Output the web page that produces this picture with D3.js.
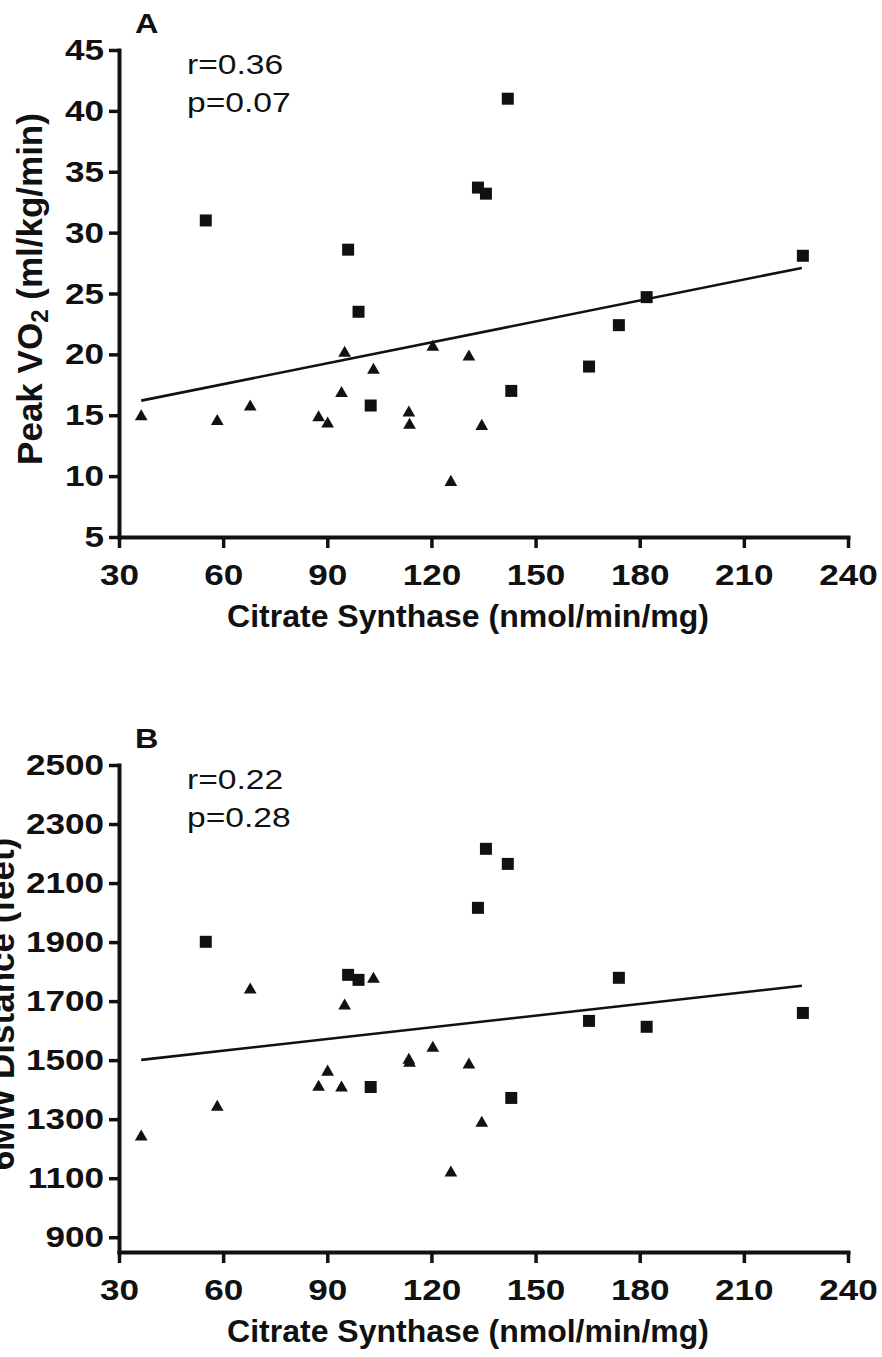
<!DOCTYPE html>
<html>
<head>
<meta charset="utf-8">
<script src="https://cdn.jsdelivr.net/npm/d3@7"></script>
<style>
  body { margin: 0; background: #fff; }
  svg { display: block; }
  text { font-family: "Liberation Sans", Arial, sans-serif; fill: #111; }
</style>
</head>
<body>
<svg width="882" height="1357"></svg>
<script>
// citrate synthase values (x) shared by both panels
var csSquares   = [55, 96, 99, 102.5, 133.4, 135.7, 142, 143, 165.4, 174, 182, 227];
var csTriangles = [36.4, 58.3, 67.8, 87.5, 90.1, 94.1, 95.0, 103.3, 113.5, 113.7, 120.4, 125.6, 130.8, 134.5];

// panel A: peak VO2
var vo2Squares   = [31.0, 28.6, 23.5, 15.8, 33.7, 33.2, 41.0, 17.0, 19.0, 22.4, 24.7, 28.1];
var vo2Triangles = [14.9, 14.5, 15.7, 14.8, 14.3, 16.8, 20.1, 18.7, 15.2, 14.2, 20.6, 9.5, 19.8, 14.1];
var vo2Fit = [[36.4, 16.2], [226.7, 27.1]];
var vo2Ticks = [5, 10, 15, 20, 25, 30, 35, 40, 45];

// panel B: 6MW distance
var walkSquares   = [1901, 1789, 1772, 1409, 2016, 2216, 2165, 1372, 1633, 1779, 1613, 1660];
var walkTriangles = [1240, 1341, 1738, 1409, 1460, 1406, 1684, 1775, 1500, 1490, 1541, 1118, 1484, 1287];
var walkFit = [[36.4, 1501], [226.7, 1752]];
var walkTicks = [900, 1100, 1300, 1500, 1700, 1900, 2100, 2300, 2500];

var xTicks = [30, 60, 90, 120, 150, 180, 210, 240];

var svg = d3.select("svg");

// stretch text horizontally, the figure fonts are wider than Arial
function widen(sel, k) {
  sel.each(function() {
    var w = this.getComputedTextLength();
    d3.select(this).attr("textLength", w * k).attr("lengthAdjust", "spacingAndGlyphs");
  });
}

function panel(top, letter, stats, yDomain, yTicks, sqY, triY, fit, titleX, titleFn) {
  var g = svg.append("g").attr("transform", `translate(0,${top})`);

  var xScale = d3.scaleLinear().domain([30, 240]).range([119, 848]);
  var yScale = d3.scaleLinear().domain(yDomain).range([537, 50]);

  var yAxis = d3.axisLeft(yScale).tickValues(yTicks).tickFormat(d3.format("d"))
    .tickSize(10).tickSizeOuter(0).tickPadding(5);
  var xAxis = d3.axisBottom(xScale).tickValues(xTicks).tickFormat(d3.format("d"))
    .tickSize(11).tickSizeOuter(0);

  var yG = g.append("g").attr("transform", "translate(119,0)").call(yAxis);
  var xG = g.append("g").attr("transform", "translate(0,537)").call(xAxis);

  [yG, xG].forEach(function(a) {
    a.select(".domain").attr("stroke", "#111").attr("stroke-width", 4).attr("stroke-linecap", "square");
    a.selectAll(".tick line").attr("stroke", "#111").attr("stroke-width", 3.5);
    a.selectAll(".tick text")
      .style("font-size", "30px").style("font-weight", "bold")
      .attr("fill", "#111");
  });
  xG.selectAll(".tick text").attr("dy", null).attr("y", 48);
  widen(yG.selectAll(".tick text"), 1.17);
  widen(xG.selectAll(".tick text"), 1.17);

  // regression line
  var line = d3.line().x(d => xScale(d[0])).y(d => yScale(d[1]));
  g.append("path").datum(fit)
    .attr("d", line)
    .attr("fill", "none").attr("stroke", "#111").attr("stroke-width", 2.6);

  var sq = d3.symbol().type(d3.symbolSquare).size(144);
  var tri = d3.symbol().type(d3.symbolTriangle).size(70);

  g.selectAll("path.sq")
    .data(csSquares)
    .enter()
    .append("path")
      .attr("class", "sq")
      .attr("d", sq)
      .attr("transform", (d, i) => `translate(${xScale(d)},${yScale(sqY[i])})`)
      .attr("fill", "#111");

  g.selectAll("path.tri")
    .data(csTriangles)
    .enter()
    .append("path")
      .attr("class", "tri")
      .attr("d", tri)
      .attr("transform", (d, i) => `translate(${xScale(d)},${yScale(triY[i])})`)
      .attr("fill", "#111");

  var lab = g.append("text").attr("x", 135).attr("y", 33)
    .style("font-size", "27px").style("font-weight", "bold").text(letter);
  widen(lab, 1.2);

  stats.forEach(function(s, i) {
    var t = g.append("text").attr("x", 187).attr("y", 74 + i * 38)
      .style("font-size", "28px").text(s);
    widen(t, 1.2);
  });

  g.append("text")
    .attr("x", 468).attr("y", 627)
    .attr("text-anchor", "middle")
    .style("font-size", "32px").style("font-weight", "bold")
    .text("Citrate Synthase (nmol/min/mg)");

  var yt = g.append("text")
    .attr("transform", `translate(${titleX},289) rotate(-90)`)
    .attr("text-anchor", "middle")
    .style("font-size", "35px").style("font-weight", "bold");
  titleFn(yt);
}

panel(0, "A", ["r=0.36", "p=0.07"], [5, 45], vo2Ticks, vo2Squares, vo2Triangles, vo2Fit, 42, function(t) {
  t.append("tspan").text("Peak VO");
  t.append("tspan").attr("dy", 6).style("font-size", "24px").text("2");
  t.append("tspan").attr("dy", -6).text(" (ml/kg/min)");
});

// the reference figure crops this title at the left edge
panel(715, "B", ["r=0.22", "p=0.28"], [850, 2500], walkTicks, walkSquares, walkTriangles, walkFit, 14, function(t) {
  t.text("6MW Distance (feet)");
});
</script>
</body>
</html>
